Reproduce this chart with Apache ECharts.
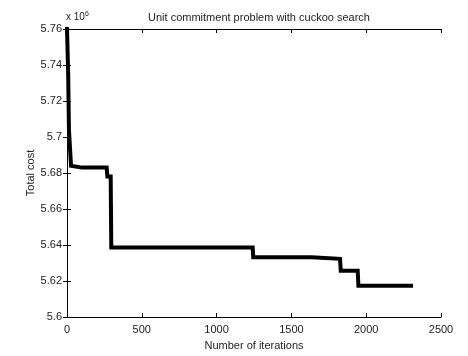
<!DOCTYPE html>
<html><head><meta charset="utf-8">
<script src="https://cdn.jsdelivr.net/npm/echarts@6/dist/echarts.min.js"></script>
<style>html,body{margin:0;padding:0;background:#fff}#c{width:468px;height:356px}</style>
</head><body><div id="c"></div>
<script>
const iterations = [0, 8, 13, 24, 27, 40, 100, 200, 265, 270, 292, 296, 600, 1000, 1241, 1245, 1634, 1636, 1825, 1830, 1943, 1948, 2300];
const totalCost  = [5.76, 5.735, 5.704, 5.703, 5.684, 5.683, 5.683, 5.683, 5.683, 5.678, 5.678, 5.6386, 5.6386, 5.6386, 5.6386, 5.6332, 5.6332, 5.6323, 5.6323, 5.6257, 5.6257, 5.6173, 5.6173];
const xTicks = [0, 500, 1000, 1500, 2000, 2500];
const yTicks = [5.6, 5.62, 5.64, 5.66, 5.68, 5.7, 5.72, 5.74, 5.76];

const chart = echarts.init(document.getElementById('c'));
const font = 'Liberation Sans, Arial, sans-serif';
const axisCommon = {
  axisLine: {show: true, lineStyle: {color: '#000', width: 1}},
  axisTick: {show: true, inside: true, length: 4, lineStyle: {color: '#000'}},
  splitLine: {show: false}
};
chart.setOption({
  animation: false,
  title: {text: 'Unit commitment problem with cuckoo search', left: 254, top: 7, textAlign: 'center',
    textStyle: {fontFamily: font, fontSize: 11, fontWeight: 'normal', color: '#222'}},
  grid: {left: 67, right: 27, top: 29, bottom: 32},
  graphic: [{type: 'text', left: 66, top: 11, style: {
    text: 'x 10{s|6}', rich: {s: {fontSize: 7, verticalAlign: 'top', padding: [0,0,6,0], fontFamily: font, fill: '#222'}},
    fontFamily: font, fontSize: 10, fill: '#222'}}],
  xAxis: [
    Object.assign({type: 'value', min: 0, max: 2500, interval: 500,
      name: 'Number of iterations', nameLocation: 'middle', nameGap: 23, nameMoveOverlap: false,
      nameTextStyle: {fontFamily: font, fontSize: 11, color: '#222'},
      axisLabel: {fontFamily: font, fontSize: 11, color: '#222', margin: 7,
        formatter: v => xTicks.includes(v) ? String(v) : ''}}, axisCommon),
    Object.assign({type: 'value', position: 'top', min: 0, max: 2500, interval: 500,
      axisLabel: {show: false}}, axisCommon)
  ],
  yAxis: [
    Object.assign({type: 'value', min: 5.6, max: 5.76, interval: 0.02,
      name: 'Total cost', nameLocation: 'middle', nameGap: 31, nameMoveOverlap: false,
      nameTextStyle: {fontFamily: font, fontSize: 11, color: '#222'},
      axisLabel: {fontFamily: font, fontSize: 11, color: '#222', margin: 5,
        formatter: v => { const t = yTicks.find(y => Math.abs(y - v) < 1e-6); return t === undefined ? '' : String(t); }}}, axisCommon),
    Object.assign({type: 'value', position: 'right', min: 5.6, max: 5.76, interval: 0.02,
      axisLabel: {show: false}}, axisCommon)
  ],
  series: [{
    type: 'line', showSymbol: false, symbol: 'none',
    data: iterations.map((x, i) => [x, totalCost[i]]),
    lineStyle: {color: '#000', width: 4, cap: 'square', join: 'miter'}
  }]
});
</script></body></html>
